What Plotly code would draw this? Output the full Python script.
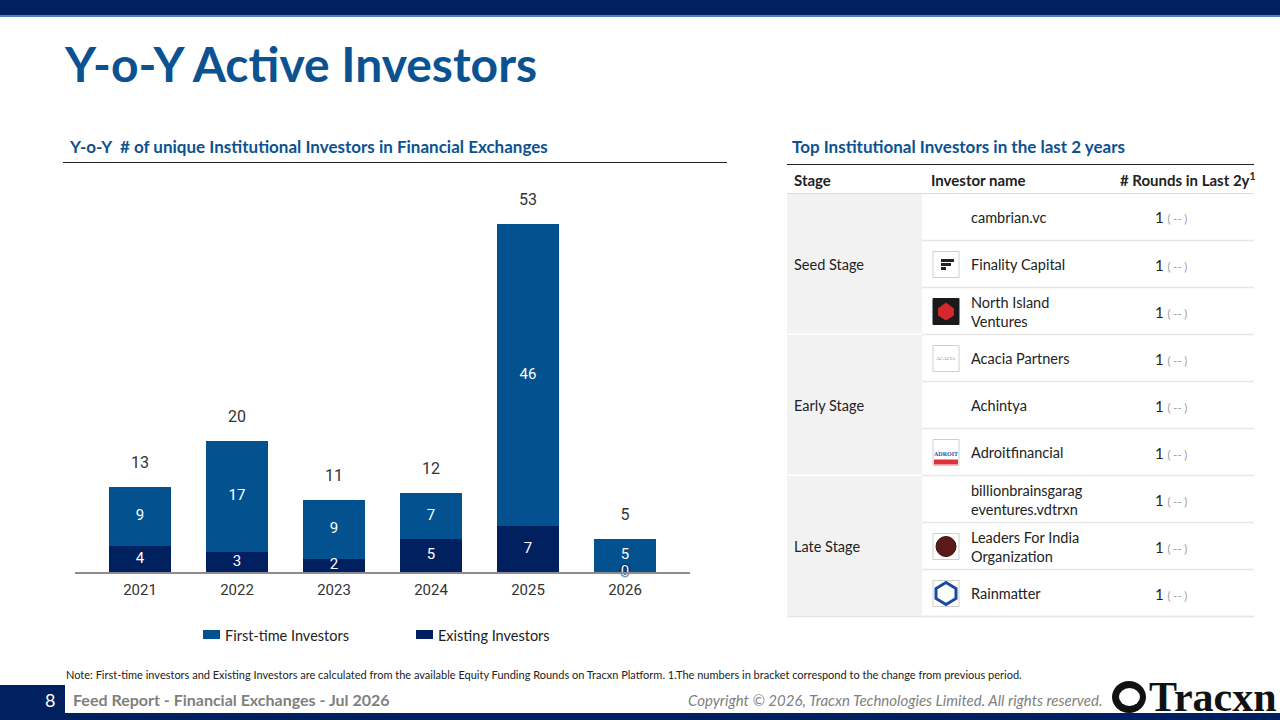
import plotly.graph_objects as go

# bar chart data
YEARS = ['2021', '2022', '2023', '2024', '2025', '2026']
FIRST_TIME = [9, 17, 9, 7, 46, 5]
EXISTING = [4, 3, 2, 5, 7, 0]
SERIES_NAMES = ['First-time Investors', 'Existing Investors']
SERIES_COLORS = ['#03528f', '#002060']

# table data
STAGES = ['Seed Stage', 'Early Stage', 'Late Stage']
INVESTORS = [
    'cambrian.vc', 'Finality Capital', 'North Island<br>Ventures',
    'Acacia Partners', 'Achintya', 'Adroitfinancial',
    'billionbrainsgarag<br>eventures.vdtrxn', 'Leaders For India<br>Organization', 'Rainmatter',
]
INVESTOR_STAGE = [0, 0, 0, 1, 1, 1, 2, 2, 2]
ROUNDS = [1, 1, 1, 1, 1, 1, 1, 1, 1]
ROUND_CHANGE = ['--'] * 9

W, H = 1280, 720
FONT = 'Lato'
NAVY = '#002060'
TITLE_BLUE = '#0b5291'


def X(px):
    return px / W


def Y(py):
    return 1 - py / H


def rect(x0, y0, x1, y1, fill, line=None, lw=0):
    return dict(type='rect', xref='paper', yref='paper', x0=X(x0), x1=X(x1), y0=Y(y1), y1=Y(y0),
                fillcolor=fill, line=dict(color=line or fill, width=lw), layer='below')


def hline(x0, x1, y, color, width=1):
    return dict(type='line', xref='paper', yref='paper', x0=X(x0), x1=X(x1), y0=Y(y), y1=Y(y),
                line=dict(color=color, width=width))


def text(x, y, s, size=14, color='#222', bold=False, anchor='left', italic=False, family=FONT):
    return dict(xref='paper', yref='paper', x=X(x), y=Y(y), text=s, showarrow=False,
                xanchor=anchor, yanchor='middle', align=anchor if anchor != 'center' else 'center',
                font=dict(family=family, size=size, color=color,
                          weight='bold' if bold else 'normal', style='italic' if italic else 'normal'))


fig = go.Figure()
fig.add_trace(go.Bar(x=YEARS, y=EXISTING, name=SERIES_NAMES[1], marker_color=SERIES_COLORS[1],
                     marker_line_width=0, width=0.64, hoverinfo='skip'))
fig.add_trace(go.Bar(x=YEARS, y=FIRST_TIME, name=SERIES_NAMES[0], marker_color=SERIES_COLORS[0],
                     marker_line_width=0, width=0.64, hoverinfo='skip'))

# bar labels
totals = [f + e for f, e in zip(FIRST_TIME, EXISTING)]
fig.add_trace(go.Scatter(x=YEARS, y=totals, mode='markers+text', text=[str(t) for t in totals],
                         textposition='top center', marker=dict(size=22, color='rgba(0,0,0,0)'),
                         textfont=dict(family='Roboto', size=16, color='#333'), hoverinfo='skip'))
fig.add_trace(go.Scatter(x=YEARS, y=[e + f / 2 for f, e in zip(FIRST_TIME, EXISTING)], mode='text',
                         text=[str(f) for f in FIRST_TIME], textposition='middle center',
                         textfont=dict(family='Roboto', size=15, color='white'), hoverinfo='skip'))
fig.add_trace(go.Scatter(x=[y for y, e in zip(YEARS, EXISTING) if e > 0],
                         y=[e / 2 for e in EXISTING if e > 0], mode='text',
                         text=[str(e) for e in EXISTING if e > 0], textposition='middle center',
                         textfont=dict(family='Roboto', size=15, color='white'), hoverinfo='skip'))
fig.add_trace(go.Scatter(x=[y for y, e in zip(YEARS, EXISTING) if e == 0],
                         y=[e for e in EXISTING if e == 0], mode='text',
                         text=[str(e) for e in EXISTING if e == 0], textposition='middle center',
                         textfont=dict(family='Roboto', size=15, color='white',
                                       shadow='0 0 2px #002060, 0 0 2px #002060, 0 0 2px #002060, 0 0 1px #002060'),
                         hoverinfo='skip', cliponaxis=False))

shapes = []
annotations = []

# top bar
shapes.append(rect(0, 0, W, 15, NAVY))
shapes.append(rect(0, 15, W, 17, '#4f81bd'))

# title
annotations.append(text(62, 63, 'Y-o-Y Active Investors', size=48, color=TITLE_BLUE, bold=True))

# section headings
annotations.append(text(67, 147, 'Y-o-Y&nbsp; # of unique Institutional Investors in Financial Exchanges',
                        size=17, color=TITLE_BLUE, bold=True))
shapes.append(hline(63, 727, 162.5, '#222', 1))
annotations.append(text(790, 147, 'Top Institutional Investors in the last 2 years',
                        size=17, color=TITLE_BLUE, bold=True))
shapes.append(hline(787, 1254, 164.5, '#222', 1))

# legend
lx = [203, 416]
for i, nm in enumerate(SERIES_NAMES):
    shapes.append(rect(lx[i], 630, lx[i] + 17, 639, SERIES_COLORS[i]))
    annotations.append(text(lx[i] + 20, 635, nm, size=14.5, color='#222'))

# table
TX0, TX1, TXS = 787, 1254, 922
ROW_H = 47
ROW0 = 194
annotations.append(text(792, 180, 'Stage', size=15, bold=True))
annotations.append(text(929, 180, 'Investor name', size=15, bold=True))
annotations.append(text(1258, 179, '# Rounds in Last 2y<sup>1</sup>', size=15, bold=True, anchor='right'))
shapes.append(hline(TX0, TX1, 193.5, '#dcdcdc', 1))

n_rows = len(INVESTORS)
for s, st in enumerate(STAGES):
    rows = [i for i, g in enumerate(INVESTOR_STAGE) if g == s]
    top = ROW0 + rows[0] * ROW_H
    bot = ROW0 + (rows[-1] + 1) * ROW_H
    shapes.append(rect(TX0, top, TXS, bot - 1.5, '#f2f2f2'))
    annotations.append(text(792, (top + bot) / 2, st, size=14.5))

for i, (nm, r, ch) in enumerate(zip(INVESTORS, ROUNDS, ROUND_CHANGE)):
    top = ROW0 + i * ROW_H
    mid = top + ROW_H / 2
    shapes.append(hline(TXS, TX1, top + ROW_H - 0.5, '#e6e6e6', 1.5))
    annotations.append(text(969, mid, nm, size=14.5))
    annotations.append(text(1153, mid, f"{r} <span style='font-size:11px;color:#9a9a9a'>( {ch} )</span>",
                            size=15, color='#222'))
shapes.append(hline(TX0, TX1, ROW0 + n_rows * ROW_H - 0.5, '#e6e6e6', 1.5))


# logos (rough drawings)
def logo_box(i, fill='white', border='#cfcfcf'):
    mid = ROW0 + i * ROW_H + ROW_H / 2
    return rect(933, mid - 13, 959, mid + 13, fill, border, 1), mid


b, m = logo_box(1)
shapes.append(b)
for dy, x1 in [(-4, 954), (0, 951), (4, 946)]:
    shapes.append(dict(type='line', xref='paper', yref='paper', x0=X(941), x1=X(x1), y0=Y(m + dy), y1=Y(m + dy),
                       line=dict(color='#222', width=3)))
b, m = logo_box(2, '#1a1a1a', '#1a1a1a')
shapes.append(b)
shapes.append(dict(type='path', xref='paper', yref='paper',
                   path=f'M {X(946)},{Y(m - 9)} L {X(954)},{Y(m - 3)} L {X(954)},{Y(m + 4)} L {X(946)},{Y(m + 9)} '
                        f'L {X(938)},{Y(m + 4)} L {X(938)},{Y(m - 3)} Z',
                   fillcolor='#d6262e', line=dict(width=0)))
b, m = logo_box(3)
shapes.append(b)
annotations.append(text(946, m, 'ACACIA', size=5, color='#888', anchor='center', family='Liberation Serif'))
b, m = logo_box(5)
shapes.append(b)
annotations.append(text(946, m + 1, '<b>ADROIT</b>', size=6, color='#2a4fa0', anchor='center',
                        family='Liberation Serif'))
shapes.append(rect(934, m + 7, 958, m + 12, '#e0313a'))
b, m = logo_box(7)
shapes.append(b)
shapes.append(dict(type='circle', xref='paper', yref='paper', x0=X(936), x1=X(956), y0=Y(m + 10), y1=Y(m - 10),
                   fillcolor='#5a1a1a', line=dict(color='#3a0f0f', width=1)))
b, m = logo_box(8)
shapes.append(b)
shapes.append(dict(type='path', xref='paper', yref='paper',
                   path=f'M {X(946)},{Y(m - 11)} L {X(956)},{Y(m - 5)} L {X(956)},{Y(m + 5)} L {X(946)},{Y(m + 11)} '
                        f'L {X(936)},{Y(m + 5)} L {X(936)},{Y(m - 5)} Z',
                   fillcolor='white', line=dict(color='#1a4aa0', width=3)))

# note
annotations.append(text(64, 674, 'Note: First-time investors and Existing Investors are calculated from the available '
                                 'Equity Funding Rounds on Tracxn Platform. 1.The numbers in bracket correspond to the '
                                 'change from previous period.', size=11, color='#222'))

# footer
shapes.append(rect(0, 713, W, H, NAVY))
shapes.append(rect(0, 685, 65, H, NAVY))
annotations.append(text(50, 700, '8', size=18, color='white', anchor='center'))
annotations.append(text(71, 699, 'Feed Report - Financial Exchanges - Jul 2026', size=16, color='#7f7f7f', bold=True))
annotations.append(text(1105, 700, 'Copyright © 2026, Tracxn Technologies Limited. All rights reserved.',
                        size=15, color='#7f7f7f', italic=True, anchor='right'))
shapes.append(dict(type='circle', xref='paper', yref='paper', x0=X(1112), x1=X(1146), y0=Y(713), y1=Y(681),
                   fillcolor='#111', line=dict(width=0)))
shapes.append(dict(type='circle', xref='paper', yref='paper', x0=X(1119), x1=X(1140), y0=Y(706), y1=Y(688),
                   fillcolor='white', line=dict(width=0)))
shapes.append(rect(1117, 689, 1130, 698, '#111'))
annotations.append(text(1147, 697, '<b>Tracxn</b>', size=42, color='#111', family='Liberation Serif'))

fig.update_layout(
    width=W, height=H,
    margin=dict(l=0, r=0, t=0, b=0),
    paper_bgcolor='white', plot_bgcolor='white',
    barmode='stack', bargap=0,
    showlegend=False,
    xaxis=dict(domain=[X(75), X(690)], range=[-0.67, 5.67], type='category', showgrid=False, showline=True,
               linecolor='#8c8c8c', linewidth=2, ticks='', ticklabelstandoff=3,
               tickfont=dict(family='Roboto', size=15, color='#333')),
    yaxis=dict(domain=[Y(572), Y(178)], range=[0, 60], showgrid=False, zeroline=False,
               showticklabels=False, ticks=''),
    shapes=shapes,
    annotations=annotations,
)

fig.write_html('out.html', config={'displayModeBar': False},
               post_script="document.body.style.margin='0';document.body.style.overflow='hidden';")
